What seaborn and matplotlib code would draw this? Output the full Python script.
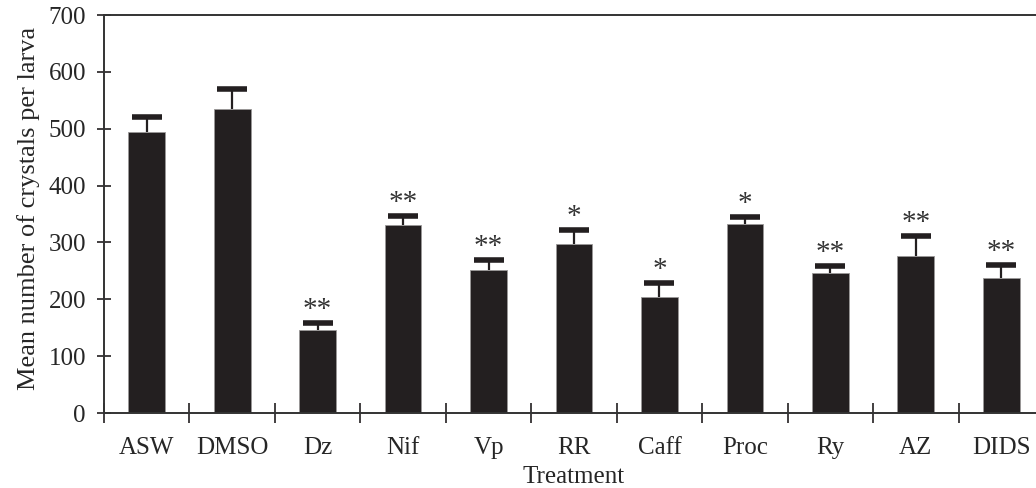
import numpy as np
import pandas as pd
import seaborn as sns
import matplotlib.pyplot as plt

treatments = ['ASW', 'DMSO', 'Dz', 'Nif', 'Vp', 'RR', 'Caff', 'Proc', 'Ry', 'AZ', 'DIDS']
mean_crystals = [494, 535, 146, 331, 252, 297, 204, 333, 247, 277, 237]
upper_err = [27, 35, 12, 15, 17, 25, 24, 12, 12, 34, 23]
stars = ['', '', '**', '**', '**', '*', '*', '*', '**', '**', '**']

sns.set_style('ticks')
plt.rcParams['font.family'] = ['Liberation Serif', 'DejaVu Serif']
plt.rcParams['font.size'] = 18

df = pd.DataFrame({'Treatment': treatments, 'Mean': mean_crystals})

fig = plt.figure(figsize=(10.36, 4.88), dpi=100)
ax = fig.add_axes([104 / 1036, 75 / 488, 940 / 1036, 398 / 488])

bar_color = '#231f20'
sns.barplot(data=df, x='Treatment', y='Mean', color=bar_color, width=0.43,
            errorbar=None, saturation=1, edgecolor='#9a9898', linewidth=0.6, ax=ax)

# upper-only error bars
xpos = np.arange(len(treatments))
eb = ax.errorbar(xpos, mean_crystals, yerr=[np.zeros(len(upper_err)), upper_err],
                 fmt='none', ecolor=bar_color, elinewidth=1.6, capsize=11, capthick=4)
eb[1][0].set_visible(False)

for x, m, e, s in zip(xpos, mean_crystals, upper_err, stars):
    if s:
        ax.annotate(s, (x, m + e), xytext=(0, 0), textcoords='offset points',
                    ha='center', va='bottom', fontsize=21, color='#333333')

ax.set_xlim(-0.5, len(treatments) - 0.5)
ax.set_ylim(0, 700)
ax.set_yticks(range(0, 701, 100))
ax.set_xticks(xpos)
ax.set_xticks(np.arange(-0.5, len(treatments), 1), minor=True)
ax.tick_params(axis='x', which='major', length=0, pad=17, labelsize=18)
ax.tick_params(axis='x', which='minor', direction='inout', length=15, width=1.2, color='#231f20')
ax.tick_params(axis='y', direction='inout', length=10, width=1.2, color='#231f20', pad=8, labelsize=18)

for side in ['left', 'bottom', 'top']:
    ax.spines[side].set_linewidth(1.4)
    ax.spines[side].set_color('#333333')
ax.spines['right'].set_visible(False)

ax.set_xlabel('Treatment', fontsize=18, labelpad=5)
ax.set_ylabel('Mean number of crystals per larva', fontsize=19)
ax.yaxis.set_label_coords(-0.068, 0.515)

fig.savefig('out.png', dpi=100)
